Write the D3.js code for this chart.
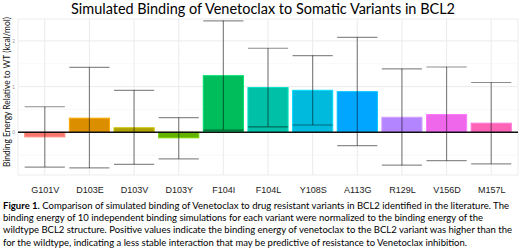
<!DOCTYPE html>
<html>
<head>
<meta charset="utf-8">
<script src="https://cdn.jsdelivr.net/npm/d3@7"></script>
<style>
  html, body { margin: 0; padding: 0; background: #fff; }
  svg { display: block; font-family: Lato, 'Open Sans', sans-serif; }
</style>
</head>
<body>
<svg id="chart" width="520" height="250"></svg>
<script>
// data
const variants = ['G101V', 'D103E', 'D103V', 'D103Y', 'F104I', 'F104L', 'Y108S', 'A113G', 'R129L', 'V156D', 'M157L'];
const meanEnergy = [-0.10, 0.31, 0.10, -0.12, 1.24, 0.98, 0.92, 0.89, 0.33, 0.39, 0.20];
const errUpper   = [0.56, 1.42, 0.92, 0.32, 2.44, 1.84, 1.68, 2.08, 1.39, 1.43, 1.09];
const errLower   = [-0.76, -0.78, -0.70, -0.58, 0.05, 0.12, 0.16, -0.29, -0.72, -0.62, -0.69];
const barColors  = ['#F8766D', '#DB8E00', '#AEA200', '#64B200', '#00BD5C', '#00C1A7', '#00BADE', '#00A6FF', '#B385FF', '#EF67EB', '#FF63B6'];
const yTicks = [0, 1, 2];
const yMinor = [-0.5, 0.5, 1.5];

const title = 'Simulated Binding of Venetoclax to Somatic Variants in BCL2';
const yLabel = 'Binding Energy Relative to WT (kcal/mol)';
const captionLines = [
  ['Figure 1.', ' Comparison of simulated binding of Venetoclax to drug resistant variants in BCL2 identified in the literature. The'],
  ['', 'binding energy of 10 independent binding simulations for each variant were normalized to the binding energy of the'],
  ['', 'wildtype BCL2 structure. Positive values indicate the binding energy of venetoclax to the BCL2 variant was higher than the'],
  ['', 'for the wildtype, indicating a less stable interaction that may be predictive of resistance to Venetoclax inhibition.']
];
const captionWidths = [506, 480, 509, 464];

const data = variants.map((v, i) => ({
  name: v, mean: meanEnergy[i], hi: errUpper[i], lo: errLower[i], color: barColors[i]
}));

const svg = d3.select('#chart');

// panel box
const panel = { left: 18, right: 518, top: 19, bottom: 175 };

// discrete scale with 0.6 expansion on each side
const step = (panel.right - panel.left) / (variants.length - 1 + 1.2);
const x = d3.scalePoint()
  .domain(variants)
  .range([panel.left + 0.6 * step, panel.right - 0.6 * step]);
const barW = step * 0.9;

const y = d3.scaleLinear()
  .domain([-0.934, 2.48])
  .range([panel.bottom, panel.top]);

// grid
const grid = svg.append('g');
grid.selectAll('.minor')
  .data(yMinor)
  .join('line')
    .attr('x1', panel.left).attr('x2', panel.right)
    .attr('y1', d => y(d)).attr('y2', d => y(d))
    .attr('stroke', '#f3f3f3').attr('stroke-width', 0.6);
grid.selectAll('.major')
  .data(yTicks)
  .join('line')
    .attr('x1', panel.left).attr('x2', panel.right)
    .attr('y1', d => y(d)).attr('y2', d => y(d))
    .attr('stroke', '#ebebeb').attr('stroke-width', 1);
grid.selectAll('.vert')
  .data(variants)
  .join('line')
    .attr('x1', d => x(d)).attr('x2', d => x(d))
    .attr('y1', panel.top).attr('y2', panel.bottom)
    .attr('stroke', '#ebebeb').attr('stroke-width', 1);

svg.append('rect')
  .attr('x', panel.left).attr('y', panel.top)
  .attr('width', panel.right - panel.left)
  .attr('height', panel.bottom - panel.top)
  .attr('fill', 'none')
  .attr('stroke', '#e8e8e8')
  .attr('stroke-width', 0.8);

// bars
svg.append('g').selectAll('rect')
  .data(data)
  .join('rect')
    .attr('x', d => x(d.name) - barW / 2)
    .attr('width', barW)
    .attr('y', d => y(Math.max(0, d.mean)))
    .attr('height', d => Math.abs(y(d.mean) - y(0)))
    .attr('fill', d => d.color)
    .attr('stroke', d => d3.color(d.color).brighter(0.5))
    .attr('stroke-width', 1);

// zero line
svg.append('line')
  .attr('x1', panel.left).attr('x2', panel.right)
  .attr('y1', y(0)).attr('y2', y(0))
  .attr('stroke', '#111').attr('stroke-width', 1.6);

// error bars
const err = svg.append('g')
  .attr('stroke', '#000')
  .attr('stroke-opacity', 0.45)
  .attr('stroke-width', 1.2);
err.selectAll('.stem')
  .data(data)
  .join('line')
    .attr('x1', d => x(d.name)).attr('x2', d => x(d.name))
    .attr('y1', d => y(d.hi)).attr('y2', d => y(d.lo));
err.selectAll('.capHi')
  .data(data)
  .join('line')
    .attr('x1', d => x(d.name) - barW / 2).attr('x2', d => x(d.name) + barW / 2)
    .attr('y1', d => y(d.hi)).attr('y2', d => y(d.hi));
err.selectAll('.capLo')
  .data(data)
  .join('line')
    .attr('x1', d => x(d.name) - barW / 2).attr('x2', d => x(d.name) + barW / 2)
    .attr('y1', d => y(d.lo)).attr('y2', d => y(d.lo));

// axes
const yAxis = svg.append('g')
  .attr('transform', `translate(${panel.left - 2},0)`)
  .call(d3.axisLeft(y).tickValues(yTicks).tickSize(0).tickPadding(0).tickFormat(d3.format('d')));
yAxis.select('.domain').remove();
yAxis.selectAll('text')
  .attr('fill', '#999')
  .style('font-size', '5px')
  .attr('x', -1);

const xAxis = svg.append('g')
  .attr('transform', `translate(0,${panel.bottom})`)
  .call(d3.axisBottom(x).tickSize(0).tickPadding(12));
xAxis.select('.domain').remove();
xAxis.selectAll('text')
  .attr('fill', '#222')
  .style('font-size', '9px');

// y label
svg.append('text')
  .attr('transform', 'rotate(-90)')
  .attr('x', -92)
  .attr('y', 10)
  .attr('text-anchor', 'middle')
  .attr('fill', '#111')
  .style('font-size', '9px')
  .attr('textLength', 150)
  .attr('lengthAdjust', 'spacingAndGlyphs')
  .text(yLabel);

// title
svg.append('text')
  .attr('x', 71)
  .attr('y', 13.5)
  .attr('fill', '#000')
  .style('font-size', '14.5px')
  .attr('textLength', 384)
  .attr('lengthAdjust', 'spacingAndGlyphs')
  .text(title);

// caption
const cap = svg.append('g').attr('fill', '#000').style('font-size', '9.6px');
captionLines.forEach((parts, i) => {
  const t = cap.append('text')
    .attr('x', 3)
    .attr('y', 208.5 + i * 12.4)
    .attr('textLength', captionWidths[i])
    .attr('lengthAdjust', 'spacingAndGlyphs');
  if (parts[0]) t.append('tspan').attr('font-weight', 'bold').text(parts[0]);
  t.append('tspan').text(parts[1]);
});
</script>
</body>
</html>
